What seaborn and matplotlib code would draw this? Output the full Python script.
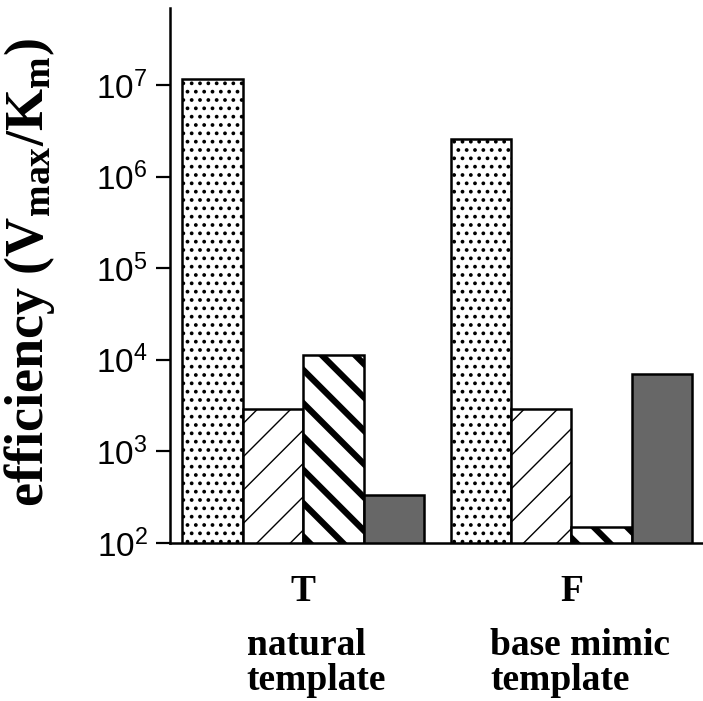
import matplotlib
matplotlib.use("Agg")
import matplotlib.pyplot as plt
import seaborn as sns
import pandas as pd
import numpy as np

# ---- data ----
templates = ["T", "F"]
template_notes = ["natural\ntemplate", "base mimic\ntemplate"]
conditions = ["c1", "c2", "c3", "c4"]
values_c1 = [1.16e7, 2.6e6]
values_c2 = [2.9e3, 2.9e3]
values_c3 = [1.12e4, 1.5e2]
values_c4 = [3.35e2, 7.0e3]
ytick_exps = [2, 3, 4, 5, 6, 7]

rows = []
for cond, vals in zip(conditions, [values_c1, values_c2, values_c3, values_c4]):
    for t, v in zip(templates, vals):
        rows.append({"template": t, "condition": cond, "efficiency": v})
df = pd.DataFrame(rows)

sns.set_style("white")
plt.rcParams["font.family"] = ["Liberation Sans", "DejaVu Sans"]
plt.rcParams["mathtext.fontset"] = "custom"
plt.rcParams["mathtext.rm"] = "Liberation Serif:bold"
plt.rcParams["mathtext.bf"] = "Liberation Serif:bold"
plt.rcParams["mathtext.it"] = "Liberation Serif:bold"
plt.rcParams["hatch.linewidth"] = 1.0
for k in ["text.color", "axes.labelcolor", "xtick.color", "ytick.color"]:
    plt.rcParams[k] = "black"

fig = plt.figure(figsize=(7.03, 7.01), dpi=100)
ax = fig.add_axes([170 / 703, 158 / 701, 533 / 703, 535 / 701])
ax.set_yscale("log")

palette = {"c1": "white", "c2": "white", "c3": "white", "c4": "#676767"}
sns.barplot(data=df, x="template", y="efficiency", hue="condition",
            order=templates, hue_order=conditions, palette=palette,
            width=0.9, edgecolor="black", linewidth=1.8, legend=False,
            saturation=1, ax=ax, errorbar=None)

hatches = ["..", "/", "\\", None]
hatch_lw = [1.5, 1.0, 4.5, None]
for cont, h, hl in zip(ax.containers, hatches, hatch_lw):
    for p in cont.patches:
        if h:
            p.set_hatch(h)
            if hasattr(p, "set_hatch_linewidth"):
                p.set_hatch_linewidth(hl)

ax.set_xlim(-0.496, 1.49)
ax.set_ylim(100, 10 ** 7.84)

ax.set_yticks([10.0 ** e for e in ytick_exps])
ax.set_yticklabels([r"$\mathregular{10^{%d}}$" % e for e in ytick_exps],
                   fontsize=24, family="Liberation Sans")
ax.yaxis.set_minor_locator(matplotlib.ticker.NullLocator())
ax.tick_params(axis="y", which="major", direction="out", length=10,
               width=1.6, color="black", pad=6, left=True)
ax.tick_params(axis="x", length=0, pad=22)
for lab in ax.get_xticklabels():
    lab.set_fontfamily("Liberation Serif")
    lab.set_fontweight("bold")
    lab.set_fontsize(27)

for s in ["top", "right"]:
    ax.spines[s].set_visible(False)
for s in ["left", "bottom"]:
    ax.spines[s].set_linewidth(1.8)
    ax.spines[s].set_color("black")

ax.set_xlabel("")
ax.set_ylabel(r"efficiency (V$_{\mathbf{max}}$/K$_{\mathbf{m}}$)",
              fontsize=39, fontweight="bold", family="Liberation Serif")
ax.yaxis.set_label_coords(-0.212, 0.505)

note_x = [-0.21, 0.698]
for x, note in zip(note_x, template_notes):
    ax.annotate(note, xy=(x, 0.104), xycoords=("data", "figure fraction"),
                ha="left", va="top", fontsize=27, fontweight="bold",
                family="Liberation Serif", linespacing=1.0,
                annotation_clip=False)

fig.savefig("out.png", dpi=100)
